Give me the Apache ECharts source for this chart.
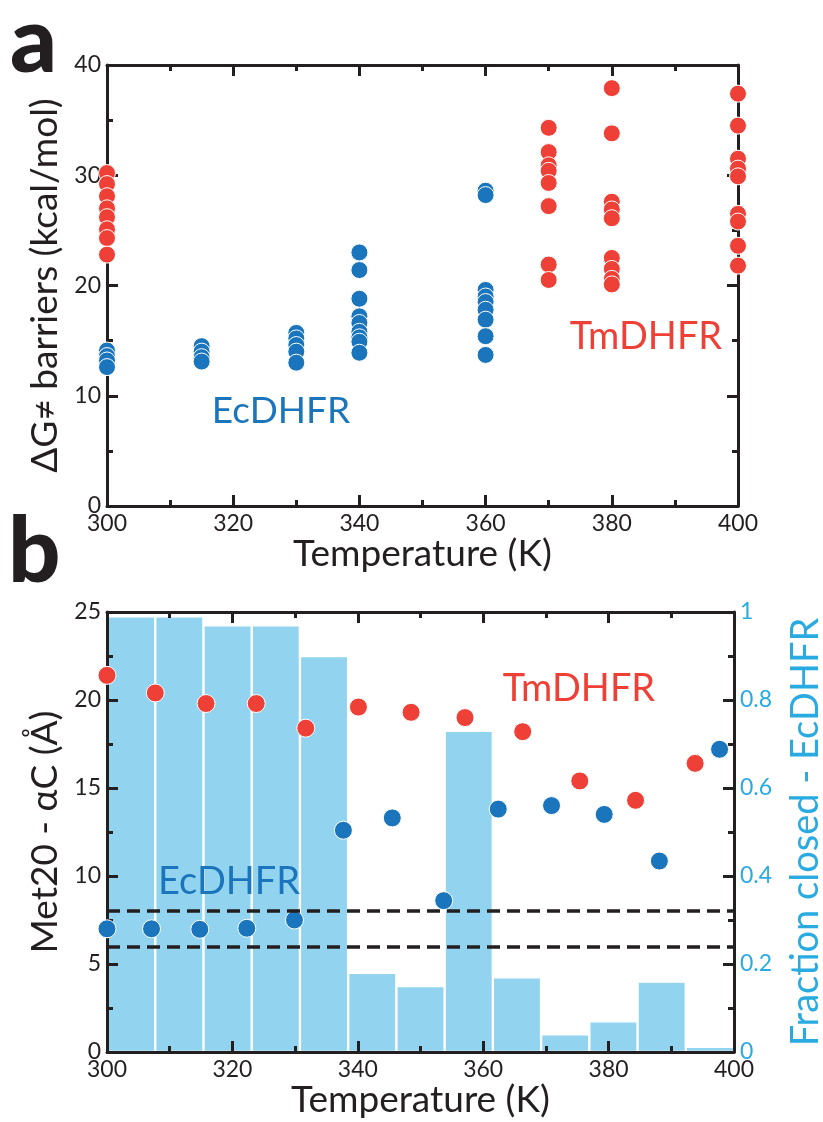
<!DOCTYPE html>
<html><head><meta charset="utf-8">
<script src="https://cdn.jsdelivr.net/npm/echarts@6/dist/echarts.min.js"></script>
<style>html,body{margin:0;padding:0;background:#fff}#c{width:823px;height:1122px}</style>
</head><body><div id="c"></div>
<script>
// ---------- Panel a: ΔG≠ barriers (kcal/mol) per temperature ----------
const ec300 = [14.1, 13.6, 13.2, 12.6];
const ec315 = [14.5, 14.0, 13.5, 13.1];
const ec330 = [15.7, 15.2, 14.6, 14.0, 13.0];
const ec340 = [23.0, 21.4, 18.8, 17.2, 16.6, 15.8, 15.3, 14.9, 13.9];
const ec360 = [28.6, 28.2, 19.6, 19.0, 18.5, 17.8, 16.9, 15.4, 13.7];
const tm300 = [30.2, 29.2, 28.1, 27.0, 26.2, 25.1, 24.3, 22.8];
const tm370 = [34.3, 32.1, 30.9, 30.4, 29.3, 27.2, 21.9, 20.5];
const tm380 = [37.9, 33.8, 27.6, 26.9, 26.1, 22.5, 21.5, 20.6, 20.1];
const tm400 = [37.4, 34.5, 31.5, 30.6, 29.9, 26.5, 25.8, 23.6, 21.8];

// ---------- Panel b: Met20 - αC distance (Å) and fraction closed ----------
const tmTempB = [300.0, 307.7, 315.8, 323.8, 331.7, 340.1, 348.5, 357.1, 366.3, 375.4, 384.3, 393.8];
const tmMet   = [21.4, 20.4, 19.8, 19.8, 18.4, 19.6, 19.3, 19.0, 18.2, 15.4, 14.3, 16.4];
const ecTempB = [300.0, 307.1, 314.8, 322.3, 329.9, 337.7, 345.5, 353.7, 362.4, 370.9, 379.3, 388.1, 397.7];
const ecMet   = [7.0, 7.0, 6.97, 7.03, 7.5, 12.6, 13.3, 8.6, 13.8, 14.0, 13.5, 10.85, 17.2];
const binLabels = ['300.0','307.7','315.4','323.1','330.8','338.5','346.2','353.8','361.5','369.2','376.9','384.6','392.3'];
const fracClosed = [0.99, 0.99, 0.97, 0.97, 0.90, 0.18, 0.15, 0.73, 0.17, 0.04, 0.07, 0.16, 0.012];
const dashLevels = [8, 6];

const RED = '#ee4036', BLUE = '#1b75bc', LBLUE = '#92d4ef', CYAN = '#29abe2', INK = '#231f20';
const FONT = 'Lato, "Noto Sans", sans-serif';

function pairs(t, arr) { return arr.map(v => [t, v]); }
function zip(xs, ys) { return xs.map((x, i) => [x, ys[i]]); }

const ecA = [].concat(pairs(300, ec300), pairs(315, ec315), pairs(330, ec330), pairs(340, ec340), pairs(360, ec360));
const tmA = [].concat(pairs(300, tm300), pairs(370, tm370), pairs(380, tm380), pairs(400, tm400));

function valAxis(o) {
  return Object.assign({
    type: 'value',
    z: 2,
    axisLine: { show: true, onZero: false, lineStyle: { color: INK, width: 3 } },
    axisTick: { show: true, inside: true, length: 11, lineStyle: { color: INK, width: 3 } },
    minorTick: { show: true, splitNumber: 2, length: 6, lineStyle: { color: INK, width: 3 } },
    splitLine: { show: false },
    minorSplitLine: { show: false },
    axisLabel: { show: true, color: INK, fontFamily: FONT, fontSize: 23, margin: 6 },
    nameTextStyle: { color: INK, fontFamily: FONT, fontSize: 37 }
  }, o);
}

const option = {
  animation: false,
  backgroundColor: '#fff',
  grid: [
    { left: 107, top: 65, width: 631, height: 441, outerBoundsMode: 'none', containLabel: false },
    { left: 107, top: 612, width: 627, height: 440, outerBoundsMode: 'none', containLabel: false }
  ],
  xAxis: [
    valAxis({ gridIndex: 0, position: 'bottom', min: 300, max: 400, interval: 20,
      name: 'Temperature (K)', nameLocation: 'middle', nameGap: 29 }),
    valAxis({ gridIndex: 0, position: 'top', min: 300, max: 400, interval: 20, axisLabel: { show: false } }),
    valAxis({ gridIndex: 1, position: 'bottom', min: 300, max: 400, interval: 20,
      name: 'Temperature (K)', nameLocation: 'middle', nameGap: 29 }),
    valAxis({ gridIndex: 1, position: 'top', min: 300, max: 400, interval: 20, axisLabel: { show: false } }),
    { type: 'category', gridIndex: 1, data: binLabels, show: false, boundaryGap: true }
  ],
  yAxis: [
    valAxis({ gridIndex: 0, position: 'left', min: 0, max: 40, interval: 10,
      name: 'ΔG≠ barriers (kcal/mol)', nameLocation: 'middle', nameRotate: 90, nameGap: 33 }),
    valAxis({ gridIndex: 0, position: 'right', min: 0, max: 40, interval: 10, axisLabel: { show: false } }),
    valAxis({ gridIndex: 1, position: 'left', min: 0, max: 25, interval: 5,
      name: 'Met20 - αC (Å)', nameLocation: 'middle', nameRotate: 90, nameGap: 33 }),
    valAxis({ gridIndex: 1, position: 'right', min: 0, max: 1, interval: 0.2,
      axisLabel: { show: true, color: CYAN, fontFamily: FONT, fontSize: 23, margin: 6 },
      name: 'Fraction closed - EcDHFR', nameLocation: 'middle', nameRotate: 90, nameGap: 53,
      nameTextStyle: { color: CYAN, fontFamily: FONT, fontSize: 38 } })
  ],
  series: [
    { type: 'bar', xAxisIndex: 4, yAxisIndex: 3, data: fracClosed, barCategoryGap: '0%', z: 1,
      itemStyle: { color: LBLUE, borderColor: '#fff', borderWidth: 1.2 } },
    { type: 'scatter', xAxisIndex: 0, yAxisIndex: 0, data: ecA, symbolSize: 17, clip: false, z: 3,
      itemStyle: { color: BLUE, borderColor: '#fff', borderWidth: 1, opacity: 1 } },
    { type: 'scatter', xAxisIndex: 0, yAxisIndex: 0, data: tmA, symbolSize: 17, clip: false, z: 3,
      itemStyle: { color: RED, borderColor: '#fff', borderWidth: 1, opacity: 1 } },
    { type: 'scatter', xAxisIndex: 2, yAxisIndex: 2, data: zip(tmTempB, tmMet), symbolSize: 18, clip: false, z: 4,
      itemStyle: { color: RED, borderColor: '#fff', borderWidth: 1, opacity: 1 } },
    { type: 'scatter', xAxisIndex: 2, yAxisIndex: 2, data: zip(ecTempB, ecMet), symbolSize: 18, clip: false, z: 4,
      itemStyle: { color: BLUE, borderColor: '#fff', borderWidth: 1, opacity: 1 },
      markLine: { silent: true, symbol: ['none', 'none'], label: { show: false },
        lineStyle: { color: INK, type: [13, 7], width: 3.5 },
        data: dashLevels.map(v => ({ yAxis: v })) } }
  ],
  graphic: {
    z: 50,
    elements: [
      { type: 'text', z: 50, left: 10, top: -4, style: { text: 'a', font: '900 92px ' + FONT, fill: INK } },
      { type: 'text', z: 50, left: 8, top: 506, style: { text: 'b', font: '900 92px ' + FONT, fill: INK } },
      { type: 'text', z: 50, x: 281, y: 411, style: { text: 'EcDHFR', font: '37px ' + FONT, fill: BLUE, textAlign: 'center', textVerticalAlign: 'middle' } },
      { type: 'text', z: 50, x: 646, y: 337, style: { text: 'TmDHFR', font: '38px ' + FONT, fill: RED, textAlign: 'center', textVerticalAlign: 'middle' } },
      { type: 'text', z: 50, x: 579, y: 689, style: { text: 'TmDHFR', font: '38px ' + FONT, fill: RED, textAlign: 'center', textVerticalAlign: 'middle' } },
      { type: 'text', z: 50, x: 229, y: 882, style: { text: 'EcDHFR', font: '38px ' + FONT, fill: BLUE, textAlign: 'center', textVerticalAlign: 'middle' } }
    ]
  }
};

const chart = echarts.init(document.getElementById('c'), null, { renderer: 'canvas' });
chart.setOption(option);
</script>
</body></html>
